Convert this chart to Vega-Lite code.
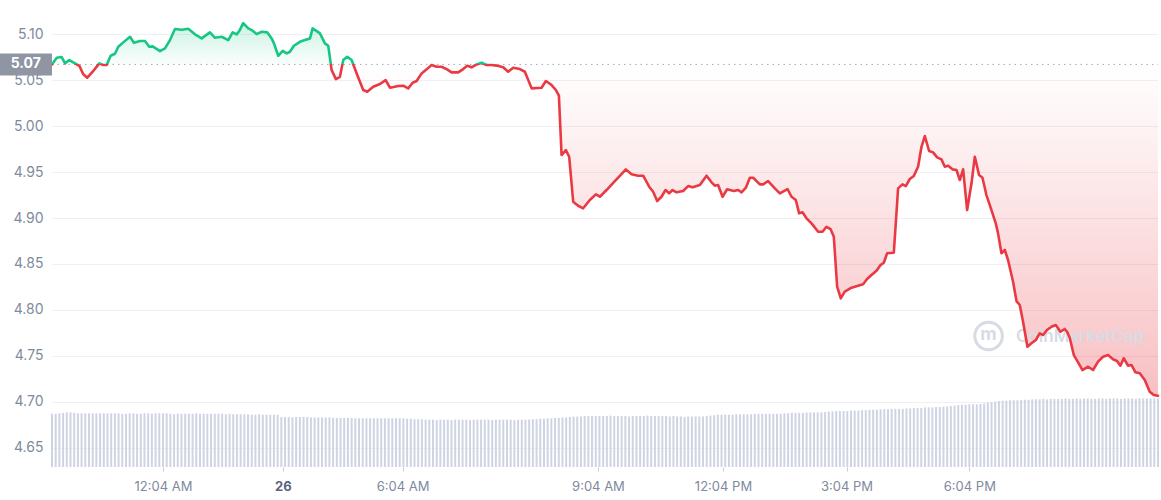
{
  "$schema": "https://vega.github.io/schema/vega-lite/v6.json",
  "width": 1106,
  "height": 451,
  "autosize": {"type": "none"},
  "padding": {"left": 52, "top": 16, "right": 3, "bottom": 33},
  "background": "white",
  "config": {
    "view": {"stroke": null},
    "font": "Inter",
    "scale": {"continuousPadding": 0},
    "axis": {"labelFont": "Inter", "labelFontSize": 13, "labelColor": "#808a9d", "title": null}
  },
  "datasets": {
    "price": [
      {"t":0,"p":5.0673},{"t":6.4,"p":5.0745},{"t":13.1,"p":5.0753},{"t":17.6,"p":5.0684},{"t":23.4,"p":5.0720},{"t":31.1,"p":5.0684},{"t":36.9,"p":5.0658},{"t":42.3,"p":5.0565},{"t":47.7,"p":5.0528},{"t":55.0,"p":5.0593},
      {"t":63.9,"p":5.0684},{"t":69.3,"p":5.0666},{"t":73.9,"p":5.0666},{"t":79.3,"p":5.0767},{"t":85.1,"p":5.0789},{"t":89.6,"p":5.0865},{"t":96.4,"p":5.0913},{"t":105.4,"p":5.0974},{"t":110.8,"p":5.0908},{"t":118.9,"p":5.0927},
      {"t":125.7,"p":5.0927},{"t":131.5,"p":5.0865},{"t":136.1,"p":5.0869},{"t":146,"p":5.0818},{"t":152.7,"p":5.0848},{"t":159.5,"p":5.0938},{"t":166.2,"p":5.1058},{"t":175.3,"p":5.1050},{"t":184.2,"p":5.1061},{"t":193.3,"p":5.1000},
      {"t":202.3,"p":5.0956},{"t":213.5,"p":5.1022},{"t":220.3,"p":5.0963},{"t":229.3,"p":5.0974},{"t":238.3,"p":5.0938},{"t":244.2,"p":5.1022},{"t":249.6,"p":5.1000},{"t":253.1,"p":5.1036},{"t":258.5,"p":5.1123},{"t":265.3,"p":5.1065},
      {"t":269.9,"p":5.1047},{"t":276.6,"p":5.1003},{"t":283.4,"p":5.1028},{"t":290.9,"p":5.1022},{"t":296.9,"p":5.0956},{"t":300,"p":5.0902},{"t":305.8,"p":5.0767},{"t":311.8,"p":5.0821},{"t":317.2,"p":5.0793},{"t":321.6,"p":5.0811},
      {"t":327,"p":5.0876},{"t":335.1,"p":5.0919},{"t":341.9,"p":5.0938},{"t":348.7,"p":5.0956},{"t":352.3,"p":5.1065},{"t":362.2,"p":5.1011},{"t":368.9,"p":5.0902},{"t":373.4,"p":5.0876},{"t":378,"p":5.0611},{"t":383.8,"p":5.0513},
      {"t":389.2,"p":5.0538},{"t":393.7,"p":5.0720},{"t":399.1,"p":5.0756},{"t":405,"p":5.0720},{"t":412.6,"p":5.0557},{"t":420.7,"p":5.0394},{"t":426.1,"p":5.0375},{"t":434.2,"p":5.0430},{"t":443.3,"p":5.0459},{"t":451,"p":5.0502},
      {"t":456.8,"p":5.0419},{"t":463.5,"p":5.0430},{"t":468,"p":5.0437},{"t":474.7,"p":5.0441},{"t":481.5,"p":5.0412},{"t":487.5,"p":5.0473},{"t":492.9,"p":5.0492},{"t":499.6,"p":5.0575},{"t":506.4,"p":5.0619},{"t":513.1,"p":5.0666},
      {"t":519.9,"p":5.0647},{"t":526.6,"p":5.0647},{"t":533.4,"p":5.0622},{"t":540.1,"p":5.0586},{"t":549.1,"p":5.0586},{"t":555.8,"p":5.0622},{"t":561.2,"p":5.0658},{"t":567.2,"p":5.0641},{"t":573.9,"p":5.0673},{"t":580.7,"p":5.0691},
      {"t":587.4,"p":5.0666},{"t":594.2,"p":5.0666},{"t":601,"p":5.0660},{"t":609.9,"p":5.0641},{"t":616.6,"p":5.0593},{"t":623.4,"p":5.0636},{"t":632.4,"p":5.0622},{"t":639.2,"p":5.0593},{"t":648.3,"p":5.0412},{"t":661.8,"p":5.0419},
      {"t":667.6,"p":5.0492},{"t":675.3,"p":5.0448},{"t":681.1,"p":5.0394},{"t":685.2,"p":5.0332},{"t":688.8,"p":4.9686},{"t":694.6,"p":4.9740},{"t":699.1,"p":4.9667},{"t":704.5,"p":4.9178},{"t":711.2,"p":4.9134},{"t":718,"p":4.9106},
      {"t":727,"p":4.9196},{"t":735.2,"p":4.9258},{"t":740.6,"p":4.9232},{"t":749.6,"p":4.9305},{"t":760.8,"p":4.9403},{"t":768.5,"p":4.9468},{"t":775.7,"p":4.9530},{"t":783.4,"p":4.9476},{"t":792.3,"p":4.9461},{"t":799.1,"p":4.9461},
      {"t":807.2,"p":4.9341},{"t":812.6,"p":4.9286},{"t":818,"p":4.9185},{"t":823.9,"p":4.9232},{"t":829.3,"p":4.9305},{"t":834.2,"p":4.9269},{"t":838.8,"p":4.9305},{"t":844.2,"p":4.9280},{"t":853.1,"p":4.9294},{"t":859.9,"p":4.9348},
      {"t":865.8,"p":4.9334},{"t":875.7,"p":4.9359},{"t":884.8,"p":4.9461},{"t":891.5,"p":4.9389},{"t":896,"p":4.9352},{"t":900.4,"p":4.9359},{"t":906.4,"p":4.9232},{"t":912.6,"p":4.9313},{"t":921.7,"p":4.9294},{"t":927.5,"p":4.9305},
      {"t":932.1,"p":4.9280},{"t":937.9,"p":4.9330},{"t":943.3,"p":4.9439},{"t":947.8,"p":4.9439},{"t":956.8,"p":4.9367},{"t":961.3,"p":4.9367},{"t":968,"p":4.9403},{"t":977.1,"p":4.9323},{"t":983.8,"p":4.9269},{"t":994.2,"p":4.9316},
      {"t":999.6,"p":4.9232},{"t":1005.4,"p":4.9196},{"t":1009.9,"p":4.9051},{"t":1014.5,"p":4.9062},{"t":1019.9,"p":4.8997},{"t":1026.7,"p":4.8942},{"t":1035.6,"p":4.8851},{"t":1041.5,"p":4.8851},{"t":1046.9,"p":4.8905},{"t":1052.3,"p":4.8880},
      {"t":1056.8,"p":4.8796},{"t":1061.3,"p":4.8252},{"t":1066.2,"p":4.8126},{"t":1071.6,"p":4.8198},{"t":1080.7,"p":4.8241},{"t":1089.6,"p":4.8263},{"t":1096.4,"p":4.8278},{"t":1101.8,"p":4.8336},{"t":1107.7,"p":4.8380},{"t":1114.5,"p":4.8426},
      {"t":1119.9,"p":4.8488},{"t":1124.4,"p":4.8513},{"t":1128.8,"p":4.8616},{"t":1137.9,"p":4.8622},{"t":1143.7,"p":4.9323},{"t":1149.6,"p":4.9367},{"t":1154.1,"p":4.9348},{"t":1159.5,"p":4.9425},{"t":1164.9,"p":4.9457},{"t":1170.7,"p":4.9559},
      {"t":1175.3,"p":4.9776},{"t":1179.8,"p":4.9893},{"t":1185.6,"p":4.9730},{"t":1191,"p":4.9715},{"t":1196.4,"p":4.9661},{"t":1202.3,"p":4.9639},{"t":1206.8,"p":4.9559},{"t":1211.3,"p":4.9569},{"t":1217.2,"p":4.9530},{"t":1222.6,"p":4.9523},
      {"t":1227.1,"p":4.9414},{"t":1231.6,"p":4.9530},{"t":1237,"p":4.9087},{"t":1242.9,"p":4.9378},{"t":1247.4,"p":4.9667},{"t":1253.1,"p":4.9468},{"t":1257.7,"p":4.9439},{"t":1263.1,"p":4.9250},{"t":1269.9,"p":4.9087},{"t":1275.7,"p":4.8942},
      {"t":1278.8,"p":4.8833},{"t":1283.4,"p":4.8616},{"t":1287.9,"p":4.8652},{"t":1292.3,"p":4.8543},{"t":1299.1,"p":4.8307},{"t":1303.7,"p":4.8096},{"t":1308.1,"p":4.8053},{"t":1312.6,"p":4.7871},{"t":1318.5,"p":4.7599},{"t":1323.9,"p":4.7636},
      {"t":1329.8,"p":4.7672},{"t":1335.2,"p":4.7745},{"t":1339.6,"p":4.7726},{"t":1345,"p":4.7781},{"t":1351,"p":4.7817},{"t":1356.8,"p":4.7835},{"t":1363.1,"p":4.7762},{"t":1368.9,"p":4.7792},{"t":1372.1,"p":4.7762},{"t":1375.7,"p":4.7697},
      {"t":1381.2,"p":4.7508},{"t":1387,"p":4.7429},{"t":1392.9,"p":4.7345},{"t":1400.5,"p":4.7381},{"t":1407.2,"p":4.7345},{"t":1414,"p":4.7436},{"t":1420.7,"p":4.7490},{"t":1427.5,"p":4.7508},{"t":1434.2,"p":4.7462},{"t":1439.6,"p":4.7443},
      {"t":1444.2,"p":4.7392},{"t":1448.7,"p":4.7473},{"t":1454.5,"p":4.7392},{"t":1459.1,"p":4.7400},{"t":1464.5,"p":4.7320},{"t":1470.3,"p":4.7309},{"t":1477.1,"p":4.7236},{"t":1483.8,"p":4.7109},{"t":1489.3,"p":4.7073},{"t":1495,"p":4.7065}
    ],
    "vol": [
      {"t":0,"v":118},{"t":5,"v":118},{"t":10,"v":119},{"t":15,"v":120},{"t":20,"v":121},{"t":25,"v":121},{"t":30,"v":120},{"t":35,"v":119},{"t":40,"v":119},{"t":45,"v":119},{"t":50,"v":119},{"t":55,"v":119},{"t":60,"v":119},{"t":65,"v":119},{"t":70,"v":119},{"t":75,"v":119},{"t":80,"v":119},{"t":85,"v":119},{"t":90,"v":119},{"t":95,"v":118},{"t":100,"v":118},
      {"t":105,"v":119},{"t":110,"v":119},{"t":115,"v":118},{"t":120,"v":118},{"t":125,"v":119},{"t":130,"v":119},{"t":135,"v":118},{"t":140,"v":119},{"t":145,"v":119},{"t":150,"v":119},{"t":155,"v":119},{"t":160,"v":118},{"t":165,"v":117},{"t":170,"v":118},{"t":175,"v":118},{"t":180,"v":118},{"t":185,"v":118},{"t":190,"v":118},{"t":195,"v":119},{"t":200,"v":118},
      {"t":205,"v":118},{"t":210,"v":118},{"t":215,"v":118},{"t":220,"v":118},{"t":225,"v":118},{"t":230,"v":118},{"t":235,"v":117},{"t":240,"v":118},{"t":245,"v":117},{"t":250,"v":117},{"t":255,"v":117},{"t":260,"v":117},{"t":265,"v":117},{"t":270,"v":116},{"t":275,"v":116},{"t":280,"v":117},{"t":285,"v":116},{"t":290,"v":116},{"t":295,"v":116},{"t":300,"v":116},{"t":305,"v":116},
      {"t":310,"v":111},{"t":315,"v":111},{"t":320,"v":111},{"t":325,"v":110},{"t":330,"v":111},{"t":335,"v":111},{"t":340,"v":111},{"t":345,"v":111},{"t":350,"v":110},{"t":355,"v":110},{"t":360,"v":110},{"t":365,"v":110},{"t":370,"v":110},{"t":375,"v":110},
      {"t":380,"v":109},{"t":385,"v":109},{"t":390,"v":109},{"t":395,"v":109},{"t":400,"v":109},{"t":405,"v":109},{"t":410,"v":108},{"t":415,"v":108},{"t":420,"v":108},{"t":425,"v":108},{"t":430,"v":108},{"t":435,"v":108},{"t":440,"v":108},{"t":445,"v":108},{"t":450,"v":108},{"t":455,"v":108},{"t":460,"v":108},{"t":465,"v":108},{"t":470,"v":108},{"t":475,"v":108},
      {"t":480,"v":107},{"t":485,"v":107},{"t":490,"v":106},{"t":495,"v":106},{"t":500,"v":106},{"t":505,"v":105},
      {"t":510,"v":105},{"t":515,"v":105},{"t":520,"v":104},{"t":525,"v":105},{"t":530,"v":105},{"t":535,"v":105},{"t":540,"v":104},{"t":545,"v":105},{"t":550,"v":105},{"t":555,"v":105},{"t":560,"v":105},{"t":565,"v":104},{"t":570,"v":105},{"t":575,"v":105},{"t":580,"v":105},{"t":585,"v":105},{"t":590,"v":105},{"t":595,"v":104},{"t":600,"v":105},{"t":605,"v":105},{"t":610,"v":105},{"t":615,"v":105},{"t":620,"v":105},{"t":625,"v":104},{"t":630,"v":105},{"t":635,"v":105},{"t":640,"v":105},{"t":645,"v":105},{"t":650,"v":106},
      {"t":655,"v":106},{"t":660,"v":107},{"t":665,"v":107},{"t":670,"v":108},{"t":675,"v":108},{"t":680,"v":109},{"t":685,"v":109},{"t":690,"v":110},{"t":695,"v":110},{"t":700,"v":111},{"t":705,"v":112},{"t":710,"v":112},{"t":715,"v":112},{"t":720,"v":113},{"t":725,"v":113},{"t":730,"v":113},{"t":735,"v":113},{"t":740,"v":113},
      {"t":745,"v":113},{"t":750,"v":113},{"t":755,"v":114},{"t":760,"v":113},{"t":765,"v":113},{"t":770,"v":113},{"t":775,"v":113},{"t":780,"v":112},{"t":785,"v":113},{"t":790,"v":113},{"t":795,"v":113},{"t":800,"v":113},{"t":805,"v":114},{"t":810,"v":113},{"t":815,"v":113},{"t":820,"v":113},{"t":825,"v":113},{"t":830,"v":113},{"t":835,"v":112},{"t":840,"v":113},{"t":845,"v":112},
      {"t":850,"v":112},{"t":855,"v":111},{"t":860,"v":112},{"t":865,"v":112},{"t":870,"v":112},{"t":875,"v":112},{"t":880,"v":112},
      {"t":885,"v":113},{"t":890,"v":114},{"t":895,"v":115},{"t":900,"v":116},{"t":905,"v":116},{"t":910,"v":116},{"t":915,"v":116},{"t":920,"v":116},{"t":925,"v":117},{"t":930,"v":117},{"t":935,"v":117},{"t":940,"v":117},{"t":945,"v":117},{"t":950,"v":118},{"t":955,"v":118},{"t":960,"v":118},{"t":965,"v":118},{"t":970,"v":118},{"t":975,"v":118},{"t":980,"v":118},{"t":985,"v":118},
      {"t":990,"v":119},{"t":995,"v":119},{"t":1000,"v":120},{"t":1005,"v":120},{"t":1010,"v":120},{"t":1015,"v":120},{"t":1020,"v":121},{"t":1025,"v":121},{"t":1030,"v":121},{"t":1035,"v":121},{"t":1040,"v":121},{"t":1045,"v":122},{"t":1050,"v":123},{"t":1055,"v":123},{"t":1060,"v":124},{"t":1065,"v":124},{"t":1070,"v":124},{"t":1075,"v":124},{"t":1080,"v":125},{"t":1085,"v":125},{"t":1090,"v":125},
      {"t":1095,"v":126},{"t":1100,"v":126},{"t":1105,"v":127},{"t":1110,"v":127},{"t":1115,"v":127},{"t":1120,"v":128},{"t":1125,"v":128},{"t":1130,"v":128},{"t":1135,"v":129},{"t":1140,"v":129},{"t":1145,"v":129},{"t":1150,"v":129},{"t":1155,"v":130},{"t":1160,"v":130},{"t":1165,"v":131},{"t":1170,"v":131},{"t":1175,"v":131},{"t":1180,"v":132},{"t":1185,"v":132},{"t":1190,"v":132},{"t":1195,"v":133},{"t":1200,"v":133},
      {"t":1205,"v":134},{"t":1210,"v":134},{"t":1215,"v":135},{"t":1220,"v":136},{"t":1225,"v":137},{"t":1230,"v":138},{"t":1235,"v":138},{"t":1240,"v":139},{"t":1245,"v":139},{"t":1250,"v":139},{"t":1255,"v":140},{"t":1260,"v":141},{"t":1265,"v":143},{"t":1270,"v":144},{"t":1275,"v":145},{"t":1280,"v":146},
      {"t":1285,"v":147},{"t":1290,"v":147},{"t":1295,"v":148},{"t":1300,"v":148},{"t":1305,"v":148},{"t":1310,"v":149},{"t":1315,"v":149},{"t":1320,"v":149},{"t":1325,"v":150},{"t":1330,"v":150},{"t":1335,"v":150},{"t":1340,"v":151},{"t":1345,"v":150},{"t":1350,"v":151},{"t":1355,"v":151},{"t":1360,"v":151},
      {"t":1365,"v":151},{"t":1370,"v":152},{"t":1375,"v":151},{"t":1380,"v":151},{"t":1385,"v":152},{"t":1390,"v":151},{"t":1395,"v":152},{"t":1400,"v":152},{"t":1405,"v":151},{"t":1410,"v":151},{"t":1415,"v":152},{"t":1420,"v":152},{"t":1425,"v":151},{"t":1430,"v":152},{"t":1435,"v":152},{"t":1440,"v":152},{"t":1445,"v":151},{"t":1450,"v":152},{"t":1455,"v":152},{"t":1460,"v":152},{"t":1465,"v":151},{"t":1470,"v":152},{"t":1475,"v":152},{"t":1480,"v":152},{"t":1485,"v":152},{"t":1490,"v":152},{"t":1495,"v":152}
    ]
  },
  "layer": [
    {
      "data": {"name": "vol"},
      "mark": {"type": "bar", "size": 2, "color": "#cfd4e2"},
      "encoding": {
        "x": {
          "field": "t",
          "type": "quantitative",
          "scale": {"domain": [0, 1495], "nice": false, "zero": false, "padding": 0},
          "axis": {
            "values": [150, 312, 474, 738, 907, 1074, 1240],
            "labelExpr": "datum.value == 150 ? '12:04 AM' : datum.value == 312 ? '26' : datum.value == 474 ? '6:04 AM' : datum.value == 738 ? '9:04 AM' : datum.value == 907 ? '12:04 PM' : datum.value == 1074 ? '3:04 PM' : '6:04 PM'",
            "domain": false,
            "grid": false,
            "ticks": true,
            "tickSize": 4,
            "tickColor": "#c8ccd5",
            "labelPadding": 9,
            "labelFontWeight": {"condition": {"test": "datum.value == 312", "value": "bold"}, "value": "normal"},
            "labelColor": {"condition": {"test": "datum.value == 312", "value": "#58667e"}, "value": "#808a9d"}
          }
        },
        "y": {"field": "v", "type": "quantitative", "scale": {"domain": [0, 1000]}, "axis": null}
      }
    },
    {
      "layer": [
        {
          "data": {"name": "price"},
          "mark": {
            "type": "area",
            "fill": {
              "gradient": "linear", "x1": 0, "y1": 0, "x2": 0, "y2": 1,
              "stops": [
                {"offset": 0, "color": "rgba(22,199,132,0.22)"},
                {"offset": 0.1109, "color": "rgba(22,199,132,0.02)"},
                {"offset": 0.1109, "color": "rgba(234,57,67,0.0)"},
                {"offset": 1, "color": "rgba(234,57,67,0.32)"}
              ]
            }
          },
          "encoding": {
            "x": {"field": "t", "type": "quantitative", "scale": {"domain": [0, 1495], "nice": false, "zero": false, "padding": 0}},
            "y": {
              "field": "p",
              "type": "quantitative",
              "scale": {"domain": [4.6289, 5.12], "nice": false, "zero": false},
              "axis": {
                "values": [4.65, 4.7, 4.75, 4.8, 4.85, 4.9, 4.95, 5.0, 5.05, 5.1],
                "format": ".2f",
                "domain": false,
                "ticks": false,
                "labelPadding": 9,
                "labelFontSize": 14,
                "grid": true,
                "gridColor": "#eef0f4",
                "gridWidth": 1
              }
            },
            "y2": {"datum": 5.0673}
          }
        },
        {
          "data": {"values": [{}]},
          "mark": {"type": "point", "shape": "circle", "filled": false, "stroke": "#d7dbe3", "strokeWidth": 3, "size": 760, "opacity": 1},
          "encoding": {"x": {"datum": 1266, "type": "quantitative"}, "y": {"datum": 4.7715, "type": "quantitative"}}
        },
        {
          "data": {"values": [{"w": "m"}]},
          "mark": {"type": "text", "font": "Inter", "fontSize": 18, "fontWeight": "bold", "color": "#d7dbe3", "baseline": "middle", "align": "center"},
          "encoding": {"x": {"datum": 1266, "type": "quantitative"}, "y": {"datum": 4.7728, "type": "quantitative"}, "text": {"field": "w"}}
        },
        {
          "data": {"values": [{"w": "CoinMarketCap"}]},
          "mark": {"type": "text", "font": "Inter", "fontSize": 17, "fontWeight": 600, "color": "#d7dbe3", "baseline": "middle", "align": "left"},
          "encoding": {"x": {"datum": 1303, "type": "quantitative"}, "y": {"datum": 4.7704, "type": "quantitative"}, "text": {"field": "w"}}
        },
        {
          "data": {"values": [{}]},
          "mark": {"type": "rule", "stroke": "#a3a9b4", "strokeDash": [1.5, 4], "strokeWidth": 1},
          "encoding": {"x": {"datum": 0, "type": "quantitative"}, "x2": {"datum": 1495}, "y": {"datum": 5.0673, "type": "quantitative"}}
        },
        {
          "data": {"name": "price"},
          "mark": {
            "type": "line",
            "strokeWidth": 2.6,
            "strokeJoin": "round",
            "strokeCap": "round",
            "stroke": {
              "gradient": "linear", "x1": 0, "y1": 0, "x2": 0, "y2": 1,
              "stops": [
                {"offset": 0, "color": "#16c784"},
                {"offset": 0.1109, "color": "#16c784"},
                {"offset": 0.1109, "color": "#ea3943"},
                {"offset": 1, "color": "#ea3943"}
              ]
            }
          },
          "encoding": {
            "x": {"field": "t", "type": "quantitative", "scale": {"domain": [0, 1495], "nice": false, "zero": false, "padding": 0}},
            "y": {"field": "p", "type": "quantitative"}
          }
        },
        {
          "data": {"values": [{}]},
          "mark": {"type": "rect", "color": "#8f95a2"},
          "encoding": {"x": {"datum": -70.3, "type": "quantitative"}, "x2": {"datum": 0}, "y": {"datum": 5.0793, "type": "quantitative"}, "y2": {"datum": 5.0553}}
        },
        {
          "data": {"values": [{"w": "5.07"}]},
          "mark": {"type": "text", "font": "Inter", "fontSize": 14, "fontWeight": "bold", "color": "#ffffff", "baseline": "middle", "align": "center"},
          "encoding": {"x": {"datum": -35.5, "type": "quantitative"}, "y": {"datum": 5.0673, "type": "quantitative"}, "text": {"field": "w"}}
        }
      ]
    }
  ],
  "resolve": {"scale": {"y": "independent"}}
}
